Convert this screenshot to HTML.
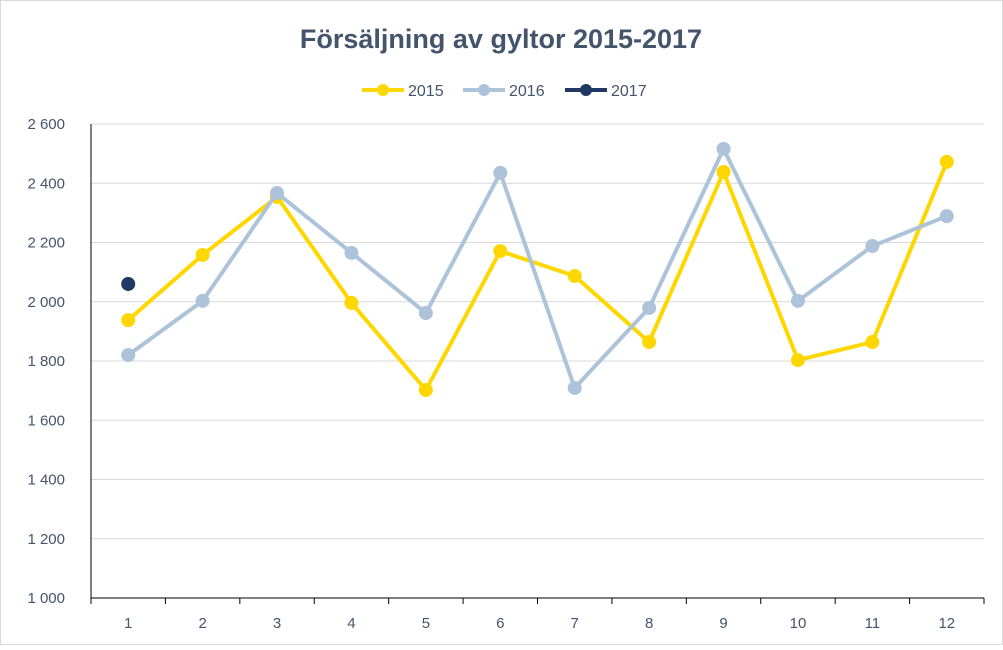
<!DOCTYPE html>
<html><head><meta charset="utf-8"><style>
body{margin:0;background:#fff;}
svg text{font-family:"Liberation Sans",sans-serif;}
</style></head><body>
<svg id="chart" width="1003" height="645" viewBox="0 0 1003 645" xmlns="http://www.w3.org/2000/svg">
<rect x="0.5" y="0.5" width="1002" height="644" fill="#fff" stroke="#d9d9d9"/>
<text x="501" y="48" text-anchor="middle" font-size="27" font-weight="bold" fill="#44546a">Försäljning av gyltor 2015-2017</text>
<g>
<g><line x1="362" y1="90" x2="404" y2="90" stroke="#ffd700" stroke-width="4"/><circle cx="383" cy="90" r="6" fill="#ffd700"/><text x="408" y="96" font-size="16" fill="#44546a">2015</text></g>
<g><line x1="463" y1="90" x2="505" y2="90" stroke="#adc3da" stroke-width="4"/><circle cx="484" cy="90" r="6" fill="#adc3da"/><text x="509" y="96" font-size="16" fill="#44546a">2016</text></g>
<g><line x1="565" y1="90" x2="607" y2="90" stroke="#1f3864" stroke-width="4"/><circle cx="586" cy="90" r="6" fill="#1f3864"/><text x="611" y="96" font-size="16" fill="#44546a">2017</text></g>
</g>
<g id="grid"></g>
<g id="axes"></g>
<g id="series"></g>
</svg>
<script>
const categories=["1","2","3","4","5","6","7","8","9","10","11","12"];
const yTicks=[1000,1200,1400,1600,1800,2000,2200,2400,2600];
const yTickLabels=["1 000","1 200","1 400","1 600","1 800","2 000","2 200","2 400","2 600"];
const s2015=[1938,2158,2354,1996,1702,2171,2087,1864,2438,1803,1864,2472];
const s2016=[1820,2003,2367,2165,1962,2435,1709,1979,2516,2003,2188,2289];
const s2017=[2060];
const NS="http://www.w3.org/2000/svg";
const L=91,R=984,T=124,B=598,yMin=1000,yMax=2600;
const step=(R-L)/categories.length;
const xs=i=>L+step*(i+0.5);
const ys=v=>B-(v-yMin)/(yMax-yMin)*(B-T);
function mk(tag,attrs,parent){const e=document.createElementNS(NS,tag);for(const k in attrs)e.setAttribute(k,attrs[k]);parent.appendChild(e);return e;}
const grid=document.getElementById('grid'),axes=document.getElementById('axes'),ser=document.getElementById('series');
yTicks.forEach((t,i)=>{
 if(i>0){const g=mk('line',{x1:L,x2:R,y1:ys(t),y2:ys(t),stroke:'#d9d9d9','stroke-width':1},grid);
 
 }
 const tx=mk('text',{x:L-26,y:ys(t)+5,'text-anchor':'end','font-size':15,fill:'#44546a'},axes);tx.textContent=yTickLabels[i];
 
 
});
const ya=mk('line',{x1:L,x2:L,y1:T,y2:B,stroke:'#000','stroke-width':1},axes);


const xa=mk('line',{x1:L,x2:R,y1:B,y2:B,stroke:'#000','stroke-width':1},axes);


for(let i=0;i<=categories.length;i++){const tk=mk('line',{x1:L+step*i,x2:L+step*i,y1:B,y2:B+6,stroke:'#000'},axes);
 
 }
categories.forEach((c,i)=>{const t=mk('text',{x:xs(i),y:B+30,'text-anchor':'middle','font-size':15,fill:'#44546a'},axes);t.textContent=c;
 
 });
function drawSeries(vals,color,name){
 const g=mk('g',{},ser);
 
 
 if(vals.length>1){const p=mk('polyline',{points:vals.map((v,i)=>xs(i)+','+ys(v)).join(' '),fill:'none',stroke:color,'stroke-width':4,'stroke-linejoin':'round'},g);
 
 }
 vals.forEach((v,i)=>{const c=mk('circle',{cx:xs(i),cy:ys(v),r:7,fill:color},g);
 
 });
}
drawSeries(s2015,'#ffd700','2015');
drawSeries(s2016,'#adc3da','2016');
drawSeries(s2017,'#1f3864','2017');
</script>
</body></html>
